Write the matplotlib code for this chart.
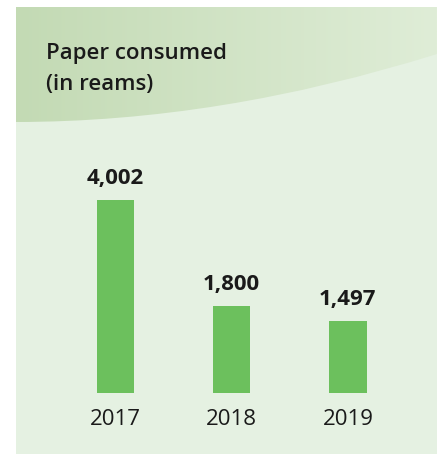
import numpy as np
import matplotlib
matplotlib.use('Agg')
import matplotlib.pyplot as plt
from matplotlib.path import Path
from matplotlib.patches import PathPatch, Rectangle

# data
years = ['2017', '2018', '2019']
reams = [4002, 1800, 1497]
labels = ['4,002', '1,800', '1,497']
title_lines = ['Paper consumed', '(in reams)']

plt.rcParams['font.family'] = ['Open Sans', 'DejaVu Sans']
W, H = 438, 456
fig = plt.figure(figsize=(W / 100, H / 100), dpi=100)

# background layer in pixel coords
bg = fig.add_axes([0, 0, 1, 1])
bg.set_xlim(0, W)
bg.set_ylim(H, 0)
bg.axis('off')
bg.add_patch(Rectangle((16, 8), 421, 447, facecolor='#e5f1e2', edgecolor='none'))

# header with curved bottom and horizontal gradient
verts = [(16, 8), (437, 8), (437, 55), (220, 123), (16, 123), (16, 8)]
codes = [Path.MOVETO, Path.LINETO, Path.LINETO, Path.CURVE3, Path.CURVE3, Path.CLOSEPOLY]
hdr = PathPatch(Path(verts, codes), facecolor='none', edgecolor='none')
bg.add_patch(hdr)
c0 = np.array([195, 218, 180]) / 255
c1 = np.array([223, 237, 215]) / 255
t = np.linspace(0, 1, 200)
grad = (c0[None, :] * (1 - t[:, None]) + c1[None, :] * t[:, None])[None, :, :]
im = bg.imshow(grad, extent=(16, 437, 123, 8), aspect='auto', zorder=1)
im.set_clip_path(hdr)

for i, line in enumerate(title_lines):
    bg.text(46.5, 59 + i * 31, line, fontsize=16, fontweight='semibold',
            color='#1a1a1a', va='baseline', ha='left', zorder=3)

# bar chart
ymax = 4600
ax = fig.add_axes([57.5 / W, (H - 393.7) / H, (406 - 57.5) / W, 193 * ymax / 4002 / H])
ax.patch.set_alpha(0)
x = np.arange(len(years))
ax.bar(x, reams, width=0.32, color='#6cc05d')
ax.set_xlim(-0.5, 2.5)
ax.set_ylim(0, ymax)
for s in ax.spines.values():
    s.set_visible(False)
ax.set_yticks([])
ax.set_xticks(x)
ax.set_xticklabels(years, fontsize=16, color='#1a1a1a')
ax.tick_params(axis='x', length=0, pad=11)
for xi, v, lab in zip(x, reams, labels):
    ax.annotate(lab, (xi, v), xytext=(0, 12), textcoords='offset points',
                ha='center', va='baseline', fontsize=16, fontweight='bold',
                color='#1a1a1a')

fig.savefig('out.png', dpi=100)
